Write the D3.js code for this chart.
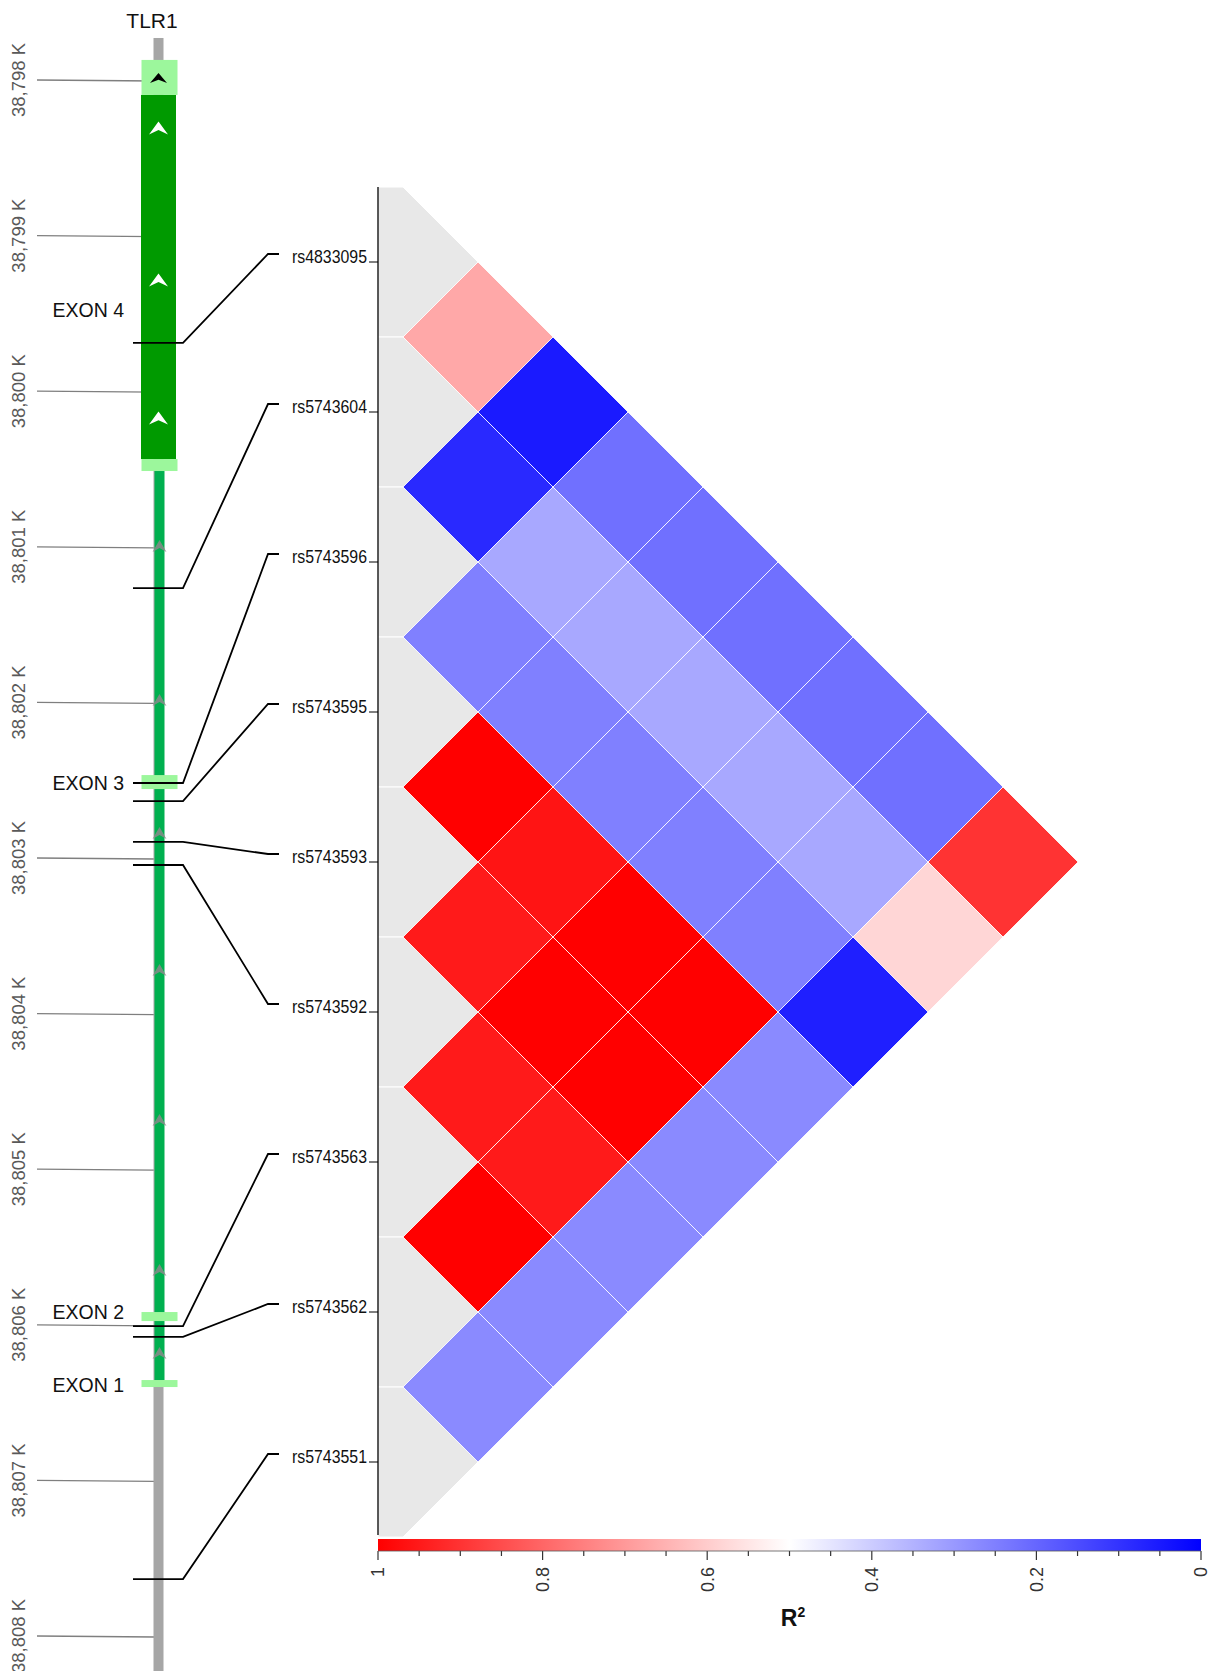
<!DOCTYPE html>
<html>
<head>
<meta charset="utf-8">
<script src="https://cdn.jsdelivr.net/npm/d3@7"></script>
<style>
  body { margin: 0; background: #fff; }
  svg { display: block; }
</style>
</head>
<body>
<div id="vis"></div>
<script>
// ---- data ----
var snpIds = ["rs4833095", "rs5743604", "rs5743596", "rs5743595", "rs5743593",
              "rs5743592", "rs5743563", "rs5743562", "rs5743551"];
// genomic position of each SNP (kb) on the gene track
var snpKb = [38799.69, 38801.265, 38802.518, 38802.634, 38802.897,
             38803.045, 38806.008, 38806.078, 38807.634];
// pairwise R2, row i holds pairs (i, i+1 .. n-1)
var r2Rows = [
  [0.67, 0.05, 0.22, 0.22, 0.22, 0.22, 0.22, 0.90],
  [0.08, 0.33, 0.33, 0.33, 0.33, 0.33, 0.58],
  [0.25, 0.25, 0.25, 0.25, 0.25, 0.06],
  [1.00, 0.96, 1.00, 1.00, 0.27],
  [0.95, 1.00, 1.00, 0.27],
  [0.95, 0.95, 0.27],
  [1.00, 0.27],
  [0.27]
];
var posTicksKb = [38798, 38799, 38800, 38801, 38802, 38803, 38804, 38805, 38806, 38807, 38808];
var r2Ticks = [1, 0.8, 0.6, 0.4, 0.2, 0];

// gene model (kb)
var chromStartKb = 38797.73;
var utrSegs = [[38797.871, 38798.096], [38800.436, 38800.513], [38802.467, 38802.557],
               [38805.918, 38805.976], [38806.355, 38806.400]];
var cdsSegs = [[38798.096, 38800.436]];
var intronSeg = [38800.513, 38806.355];
var exonNames = ["EXON 4", "EXON 3", "EXON 2", "EXON 1"];
var exonLabelKb = [38799.478, 38802.518, 38805.918, 38806.387];
var arrowUtrKb = [38797.987];
var arrowCdsKb = [38798.308, 38799.285, 38800.172];
var arrowIntronKb = [38800.995, 38801.985, 38802.839, 38803.72, 38804.684, 38805.648, 38806.181];

// ---- layout ----
var W = 1211, H = 1671;
var geneX = 158.5;
var ldAxisX = 378;
var font = "'Liberation Sans', Arial, sans-serif";

var svg = d3.select('#vis').append('svg')
  .attr('width', W)
  .attr('height', H);

// gene position scale
var yKb = d3.scaleLinear().domain([38798, 38808]).range([80, 1636]);
// SNP rows in the LD plot
var ySnp = d3.scalePoint().domain(snpIds).range([262, 1462]);
var half = ySnp.step() / 2;
var x0 = ldAxisX + 25;

var color = d3.scaleLinear()
  .domain([0, 0.5, 1])
  .range(['#0000ff', '#ffffff', '#ff0000']);

// ---------------- gene track ----------------
var gTrack = svg.append('g');

// position ticks
gTrack.selectAll('.pos-tick')
  .data(posTicksKb)
  .enter().append('line')
  .attr('class', 'pos-tick')
  .attr('x1', 37).attr('x2', geneX - 4)
  .attr('y1', function(d) { return yKb(d); })
  .attr('y2', function(d) { return yKb(d) + 1; })
  .attr('stroke', '#7f7f7f')
  .attr('stroke-width', 1.3);

gTrack.selectAll('.pos-label')
  .data(posTicksKb)
  .enter().append('text')
  .attr('class', 'pos-label')
  .attr('transform', function(d) { return 'translate(19,' + yKb(d) + ') rotate(-90)'; })
  .attr('dy', '0.35em')
  .attr('text-anchor', 'middle')
  .attr('font-family', font)
  .attr('font-size', 18.5)
  .attr('fill', '#595959')
  .text(function(d) { return d3.format(',')(d) + ' K'; });

// chromosome backbone
gTrack.append('rect')
  .attr('x', geneX - 5).attr('width', 10)
  .attr('y', yKb(chromStartKb))
  .attr('height', H - yKb(chromStartKb))
  .attr('fill', '#a6a6a6');

// intron
gTrack.append('rect')
  .attr('x', geneX - 4).attr('width', 10)
  .attr('y', yKb(intronSeg[0]))
  .attr('height', yKb(intronSeg[1]) - yKb(intronSeg[0]))
  .attr('fill', '#00b04f');

// cds
gTrack.selectAll('.cds')
  .data(cdsSegs)
  .enter().append('rect')
  .attr('x', geneX - 17.5).attr('width', 35)
  .attr('y', function(d) { return yKb(d[0]); })
  .attr('height', function(d) { return yKb(d[1]) - yKb(d[0]); })
  .attr('fill', '#009a00');

// utr / small exons
gTrack.selectAll('.utr')
  .data(utrSegs)
  .enter().append('rect')
  .attr('x', geneX - 17).attr('width', 36)
  .attr('y', function(d) { return yKb(d[0]); })
  .attr('height', function(d) { return yKb(d[1]) - yKb(d[0]); })
  .attr('fill', '#9cf79c');

function chevron(w, h) {
  return 'M0,' + (-h / 2) + 'L' + (w / 2) + ',' + (h / 2) + 'L0,' + (h / 6) +
         'L' + (-w / 2) + ',' + (h / 2) + 'Z';
}

gTrack.selectAll('.arr-utr')
  .data(arrowUtrKb)
  .enter().append('path')
  .attr('d', chevron(17, 10))
  .attr('transform', function(d) { return 'translate(' + geneX + ',' + yKb(d) + ')'; })
  .attr('fill', '#000');

gTrack.selectAll('.arr-cds')
  .data(arrowCdsKb)
  .enter().append('path')
  .attr('d', chevron(19, 13))
  .attr('transform', function(d) { return 'translate(' + geneX + ',' + yKb(d) + ')'; })
  .attr('fill', '#fff');

gTrack.selectAll('.arr-intron')
  .data(arrowIntronKb)
  .enter().append('path')
  .attr('d', chevron(14, 12))
  .attr('transform', function(d) { return 'translate(' + (geneX + 1) + ',' + yKb(d) + ')'; })
  .attr('fill', '#8a8a8a')
  .attr('opacity', 0.85);

// gene name
gTrack.append('text')
  .attr('x', 152).attr('y', 28)
  .attr('text-anchor', 'middle')
  .attr('font-family', font)
  .attr('font-size', 21)
  .attr('fill', '#111')
  .text('TLR1');

// exon labels
gTrack.selectAll('.exon-label')
  .data(exonNames)
  .enter().append('text')
  .attr('x', 124)
  .attr('y', function(d, i) { return yKb(exonLabelKb[i]); })
  .attr('dy', '0.35em')
  .attr('text-anchor', 'end')
  .attr('font-family', font)
  .attr('font-size', 19.5)
  .attr('fill', '#111')
  .text(function(d) { return d; });

// SNP connectors from gene track to LD rows
var connector = d3.line();
gTrack.selectAll('.snp-link')
  .data(snpIds)
  .enter().append('path')
  .attr('class', 'snp-link')
  .attr('d', function(d, i) {
    var ys = yKb(snpKb[i]);
    var yl = ySnp(d) - 8;
    return connector([[133, ys], [183, ys], [268, yl], [279, yl]]);
  })
  .attr('fill', 'none')
  .attr('stroke', '#000')
  .attr('stroke-width', 1.8);

// ---------------- LD heatmap ----------------
var gLd = svg.append('g');

// diagonal (self) cells in grey
gLd.selectAll('.self')
  .data(snpIds)
  .enter().append('path')
  .attr('d', function(d) {
    var y = ySnp(d);
    return d3.line()([[ldAxisX, y - half], [x0, y - half], [x0 + half, y],
                      [x0, y + half], [ldAxisX, y + half]]) + 'Z';
  })
  .attr('fill', '#e8e8e8')
  .attr('stroke', '#fff')
  .attr('stroke-width', 1);

var cells = [];
r2Rows.forEach(function(row, i) {
  row.forEach(function(v, k) {
    cells.push({ a: snpIds[i], b: snpIds[i + k + 1], r2: v });
  });
});

gLd.selectAll('.cell')
  .data(cells)
  .enter().append('path')
  .attr('class', 'cell')
  .attr('d', function(d) {
    var ya = ySnp(d.a), yb = ySnp(d.b);
    var cy = (ya + yb) / 2;
    var cx = x0 + (yb - ya) / 2;
    return d3.line()([[cx - half, cy], [cx, cy - half], [cx + half, cy], [cx, cy + half]]) + 'Z';
  })
  .attr('fill', function(d) { return color(d.r2); })
  .attr('stroke', '#fff')
  .attr('stroke-opacity', 0.85)
  .attr('stroke-width', 1);

// left axis of LD plot
gLd.append('line')
  .attr('x1', ldAxisX).attr('x2', ldAxisX)
  .attr('y1', ySnp(snpIds[0]) - half)
  .attr('y2', ySnp(snpIds[snpIds.length - 1]) + half - 2)
  .attr('stroke', '#000')
  .attr('stroke-width', 1.3);

gLd.selectAll('.snp-tick')
  .data(snpIds)
  .enter().append('line')
  .attr('x1', ldAxisX - 9).attr('x2', ldAxisX)
  .attr('y1', function(d) { return ySnp(d); })
  .attr('y2', function(d) { return ySnp(d); })
  .attr('stroke', '#000');

gLd.selectAll('.snp-label')
  .data(snpIds)
  .enter().append('text')
  .attr('x', 367)
  .attr('y', function(d) { return ySnp(d) + 1; })
  .attr('text-anchor', 'end')
  .attr('font-family', font)
  .attr('font-size', 18.5)
  .attr('textLength', 75)
  .attr('lengthAdjust', 'spacingAndGlyphs')
  .attr('fill', '#111')
  .text(function(d) { return d; });

// ---------------- colour legend ----------------
var xLeg = d3.scaleLinear().domain([1, 0]).range([ldAxisX, 1201]);
var legY = 1539, legH = 12;

var grad = svg.append('defs').append('linearGradient')
  .attr('id', 'r2grad')
  .attr('x1', '0%').attr('x2', '100%');
grad.selectAll('stop')
  .data([1, 0.5, 0])
  .enter().append('stop')
  .attr('offset', function(d) { return (1 - d) * 100 + '%'; })
  .attr('stop-color', function(d) { return color(d); });

svg.append('rect')
  .attr('x', xLeg(1)).attr('y', legY)
  .attr('width', xLeg(0) - xLeg(1)).attr('height', legH)
  .attr('fill', 'url(#r2grad)');

var gTicks = svg.append('g');
gTicks.selectAll('.minor')
  .data(xLeg.ticks(20))
  .enter().append('line')
  .attr('x1', function(d) { return xLeg(d); })
  .attr('x2', function(d) { return xLeg(d); })
  .attr('y1', legY + legH)
  .attr('y2', function(d) {
    var major = r2Ticks.some(function(t) { return Math.abs(t - d) < 1e-6; });
    return legY + legH + (major ? 9 : 5);
  })
  .attr('stroke', '#333')
  .attr('stroke-width', 1.2);

gTicks.append('line')
  .attr('x1', xLeg(1)).attr('x2', xLeg(0))
  .attr('y1', legY + legH).attr('y2', legY + legH)
  .attr('stroke', '#555')
  .attr('stroke-width', 0.8);

gTicks.selectAll('.r2-label')
  .data(r2Ticks)
  .enter().append('text')
  .attr('transform', function(d) { return 'translate(' + xLeg(d) + ',' + 1567 + ') rotate(-90)'; })
  .attr('dy', '0.35em')
  .attr('text-anchor', 'end')
  .attr('font-family', font)
  .attr('font-size', 18)
  .attr('fill', '#333')
  .text(function(d) { return d; });

var r2Title = svg.append('text')
  .attr('x', 793).attr('y', 1626)
  .attr('text-anchor', 'middle')
  .attr('font-family', font)
  .attr('font-weight', 'bold')
  .attr('font-size', 23)
  .attr('fill', '#111');
r2Title.append('tspan').text('R');
r2Title.append('tspan')
  .attr('font-size', 14)
  .attr('dy', -9)
  .text('2');
</script>
</body>
</html>
